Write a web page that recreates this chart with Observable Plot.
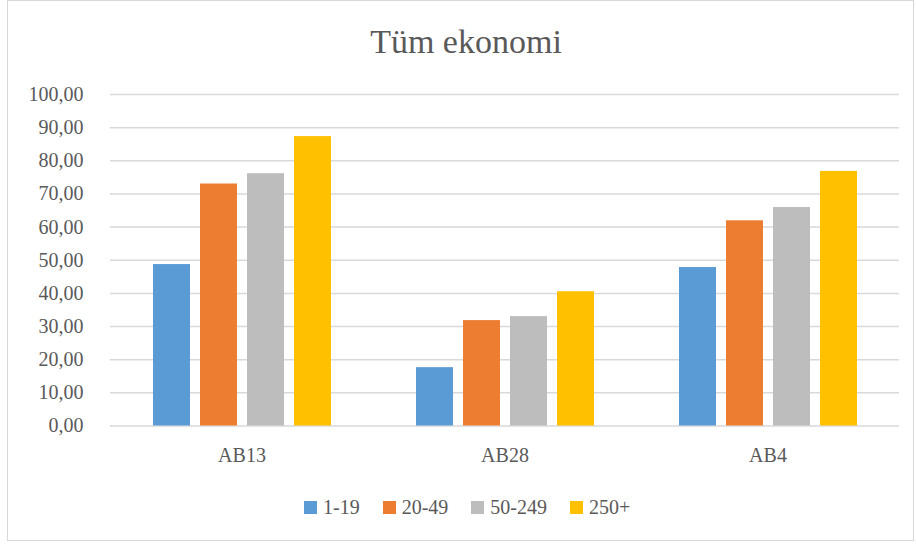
<!DOCTYPE html>
<html>
<head>
<meta charset="utf-8">
<script src="https://cdn.jsdelivr.net/npm/d3@7"></script>
<script src="https://cdn.jsdelivr.net/npm/@observablehq/plot@0.6"></script>
<style>
  html, body { margin: 0; padding: 0; background: #fff; }
  #wrap { position: relative; width: 916px; height: 544px; overflow: hidden; font-family: "Liberation Serif", "Times New Roman", Times, "DejaVu Serif", serif; color: #595959; }
  #frame { position: absolute; left: 7px; top: 0px; width: 907px; height: 541px; border: 1px solid #d9d9d9; box-sizing: border-box; }
  #title { position: absolute; left: 16px; top: 22px; width: 900px; text-align: center; font-size: 34px; line-height: 40px; }
  #chart { position: absolute; left: 0; top: 0; }
  #legend { position: absolute; left: 304px; top: 494px; display: flex; align-items: center; font-size: 20px; line-height: 26px; }
  .item { display: flex; align-items: center; margin-right: 23px; }
  .sw { width: 13px; height: 13px; margin-right: 6px; }
</style>
</head>
<body>
<div id="wrap">
  <div id="frame"></div>
  <div id="chart"></div>
  <div id="title">Tüm ekonomi</div>
  <div id="legend"></div>
</div>
<script>
const groups = ["AB13", "AB28", "AB4"];
const series = ["1-19", "20-49", "50-249", "250+"];
const v1_19 = [48.7, 17.6, 47.8];
const v20_49 = [73.0, 31.8, 61.9];
const v50_249 = [76.1, 33.0, 65.9];
const v250 = [87.3, 40.5, 76.8];
const colors = ["#5B9BD5", "#ED7D31", "#BDBDBD", "#FFC000"];
const yTicks = [0, 10, 20, 30, 40, 50, 60, 70, 80, 90, 100];

const seriesValues = [v1_19, v20_49, v50_249, v250];
const data = groups.flatMap((g, i) => series.map((s, j) => ({group: g, series: s, value: seriesValues[j][i]})));
const fmt = d => d.toFixed(2).replace(".", ",");

const chart = Plot.plot({
  width: 916,
  height: 544,
  marginLeft: 110,
  marginRight: 17,
  marginTop: 94,
  marginBottom: 118.5,
  style: {fontFamily: "'Liberation Serif', 'Times New Roman', Times, 'DejaVu Serif', serif", fontSize: "20px", color: "#595959", background: "transparent"},
  facet: {data, x: "group"},
  fx: {domain: groups, padding: 0, label: null, tickSize: 0, tickPadding: 22},
  x: {domain: series, paddingInner: 0.22, paddingOuter: 0.9, axis: null},
  y: {domain: [0, 100], ticks: 10, tickFormat: fmt, tickSize: 0, tickPadding: 27, label: null},
  color: {domain: series, range: colors},
  marks: [
    Plot.ruleY(yTicks, {stroke: "#d9d9d9", strokeWidth: 1.5}),
    Plot.barY(data, {x: "series", y: "value", fill: "series"})
  ]
});
document.getElementById("chart").appendChild(chart);

const legend = document.getElementById("legend");
series.forEach((s, i) => {
  const item = document.createElement("div");
  item.className = "item";
  const sw = document.createElement("div");
  sw.className = "sw";
  sw.style.background = colors[i];
  const t = document.createElement("span");
  t.textContent = s;
  item.appendChild(sw);
  item.appendChild(t);
  legend.appendChild(item);
});
</script>
</body>
</html>
